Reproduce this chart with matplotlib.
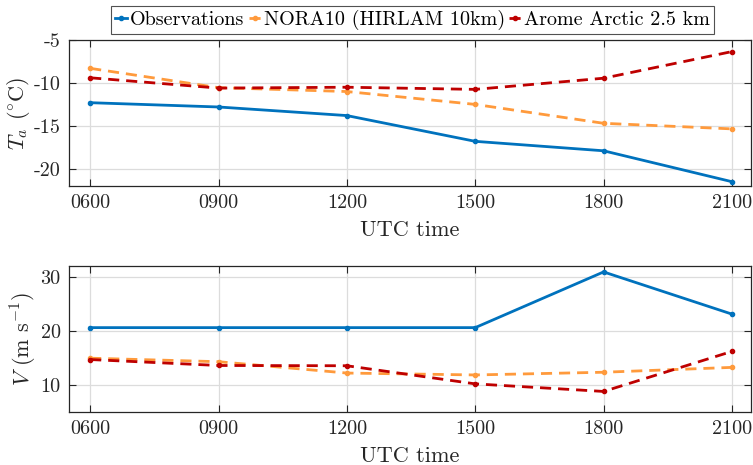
import numpy as np
import matplotlib
matplotlib.use("Agg")
import matplotlib.pyplot as plt

plt.rcParams['font.family'] = 'serif'
plt.rcParams['font.serif'] = ['cmr10', 'DejaVu Serif']
plt.rcParams['mathtext.fontset'] = 'cm'
plt.rcParams['axes.unicode_minus'] = False

# data
times = ['0600', '0900', '1200', '1500', '1800', '2100']
ta_obs = [-12.3, -12.8, -13.8, -16.8, -17.9, -21.5]
ta_nora = [-8.3, -10.55, -11.0, -12.5, -14.7, -15.35]
ta_arome = [-9.4, -10.6, -10.5, -10.75, -9.45, -6.35]

v_obs = [20.6, 20.6, 20.6, 20.6, 30.9, 23.1]
v_nora = [14.95, 14.3, 12.2, 11.85, 12.35, 13.25]
v_arome = [14.7, 13.6, 13.55, 10.2, 8.8, 16.2]

ta_ticks = [-20, -15, -10, -5]
v_ticks = [10, 20, 30]

c_obs = '#0072BD'
c_nora = '#FF9A3C'
c_arome = '#BE0000'

x = np.arange(len(times))

fig = plt.figure(figsize=(7.53, 4.65), dpi=100)
ax1 = fig.add_axes([0.0916, 0.600, 0.906, 0.314])
ax2 = fig.add_axes([0.0916, 0.114, 0.906, 0.314])


def style_axis(ax, yt, ylim, ylabel, ylab_x):
    ax.set_xlim(-0.165, 5.15)
    ax.set_ylim(*ylim)
    ax.set_xticks(x)
    ax.set_xticklabels(times)
    ax.set_yticks(yt)
    ax.set_yticklabels([str(t) for t in yt])
    ax.grid(True, color='#DCDCDC', linewidth=0.9)
    ax.set_axisbelow(True)
    ax.tick_params(direction='in', top=True, right=True, length=5,
                   width=0.8, color='#262626', labelsize=14.5, pad=6,
                   labelcolor='#262626')
    for s in ax.spines.values():
        s.set_color('#262626')
        s.set_linewidth(0.9)
    ax.set_xlabel('UTC time', fontsize=16, color='#262626', labelpad=6)
    ax.set_ylabel(ylabel, fontsize=16, color='#262626')
    ax.yaxis.set_label_coords(ylab_x, 0.5)


lines = []
for ax, series in [(ax1, (ta_obs, ta_nora, ta_arome)),
                   (ax2, (v_obs, v_nora, v_arome))]:
    l1, = ax.plot(x, series[0], '-', color=c_obs, lw=2, marker='.', ms=6)
    l2, = ax.plot(x, series[1], '--', color=c_nora, lw=2, marker='.', ms=6,
                  dashes=(4, 2.5))
    l3, = ax.plot(x, series[2], '--', color=c_arome, lw=2, marker='.', ms=6,
                  dashes=(4, 2.5))
    lines = [l1, l2, l3]

style_axis(ax1, ta_ticks, (-22, -5), r'$T_a$ ($^{\circ}$C)', -0.054)
style_axis(ax2, v_ticks, (5, 32), r'$V$ (m s$^{-1}$)', -0.044)

leg = fig.legend(lines, ['Observations', 'NORA10 (HIRLAM 10km)', 'Arome Arctic 2.5 km'],
                 loc='center', bbox_to_anchor=(0.548, 0.957), ncol=3,
                 fontsize=14.5, frameon=True, fancybox=False, handlelength=0.6,
                 handletextpad=0.15, columnspacing=0.2, borderpad=0.2,
                 borderaxespad=0)
leg.get_frame().set_edgecolor('#262626')
leg.get_frame().set_linewidth(0.8)

fig.savefig('out.png', dpi=100)
